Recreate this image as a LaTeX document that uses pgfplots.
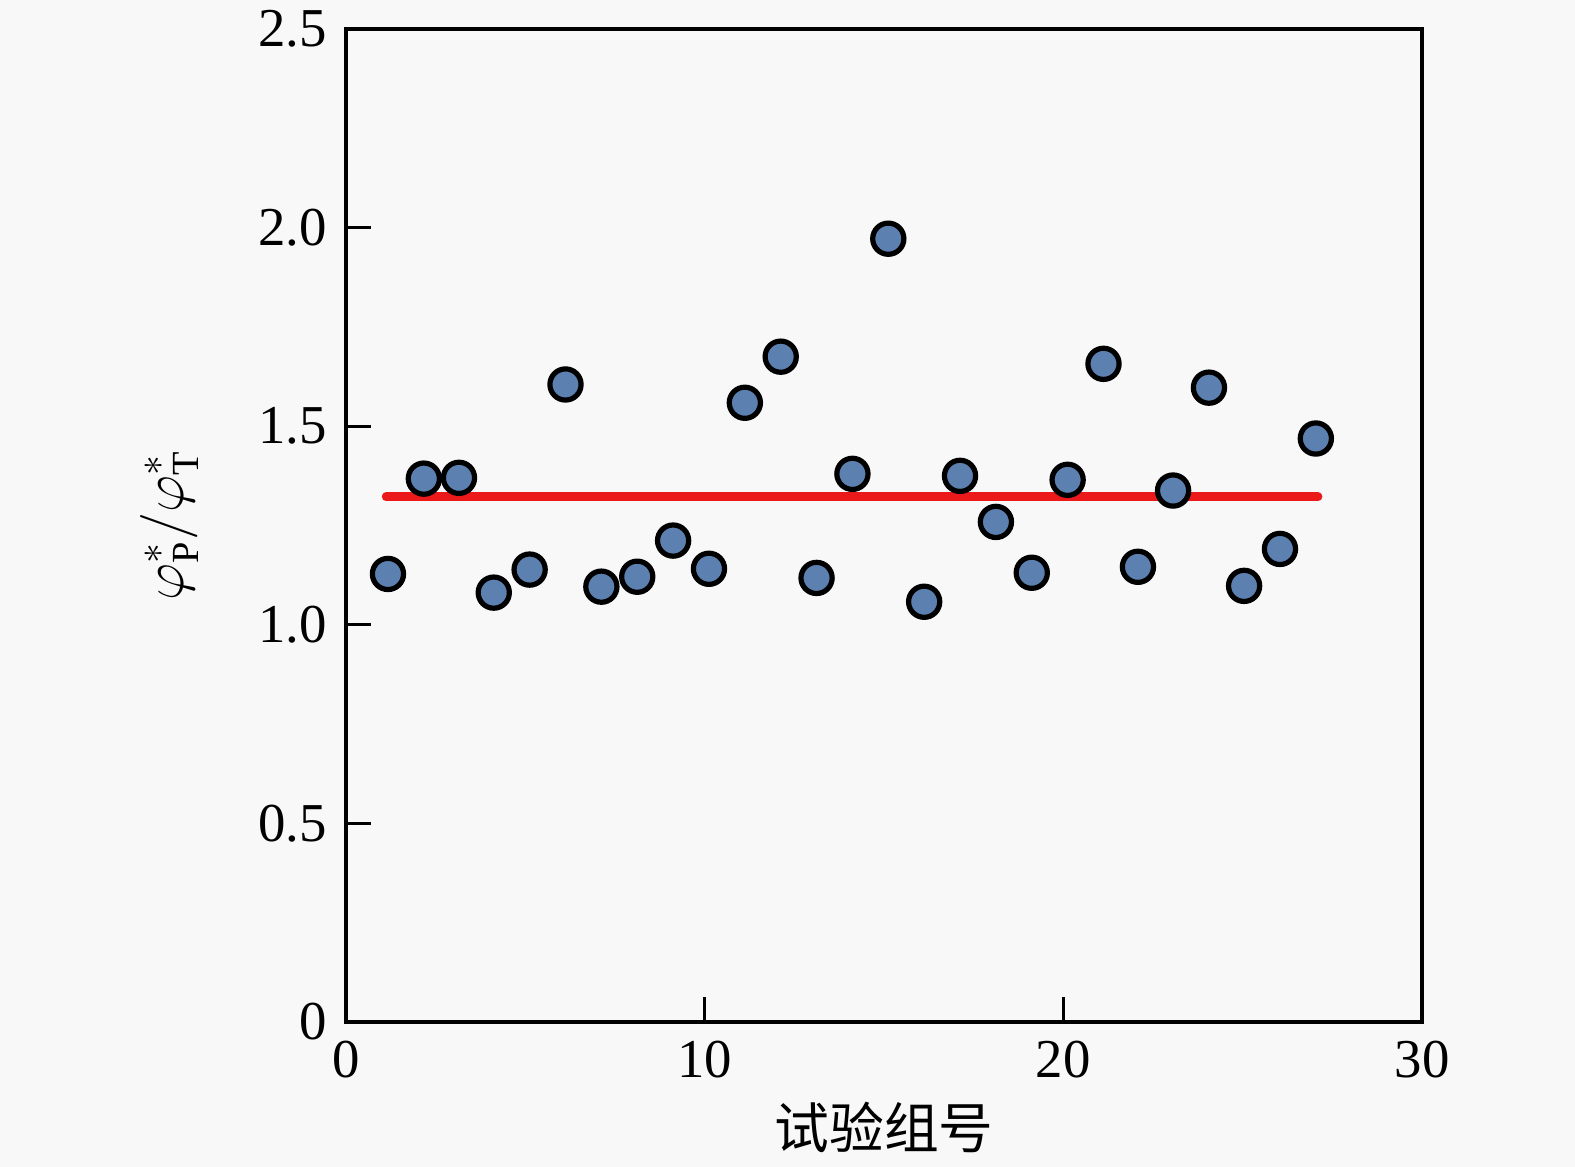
\documentclass[border=0pt]{standalone}
\usepackage{fontspec}
\setmainfont{Liberation Serif}
\newfontfamily\cjk{Noto Sans CJK SC}
\usepackage{amsmath}
\usepackage{pgfplots}
\pgfplotsset{compat=1.18}
\definecolor{bg}{RGB}{248,248,248}
\definecolor{mk}{RGB}{92,128,175}
\definecolor{rl}{RGB}{235,25,25}
\begin{document}
\fontsize{13.75}{16}\selectfont
\begin{tikzpicture}
\path[use as bounding box, fill=bg] (0,0) rectangle (393.75bp,291.75bp);
\begin{axis}[
  at={(86.5bp,36.25bp)}, anchor=south west,
  scale only axis, width=269bp, height=248.25bp,
  xmin=0, xmax=30, ymin=0, ymax=2.5,
  xtick={0,10,20,30}, ytick={0,0.5,1,1.5,2,2.5},
  yticklabels={0,0.5,1.0,1.5,2.0,2.5},
  xtick pos=left, ytick pos=left,
  tick align=inside, major tick length=6.25bp,
  axis line style={line width=0.8bp},
  tick style={line width=0.8bp, black},
  /pgf/number format/assume math mode=true,
  ticklabel style={font=\fontsize{13.75}{16}\selectfont},
  axis background/.style={fill=bg},
  clip=false,
  xlabel={\cjk 试验组号},
  xlabel style={at={(axis description cs:0.5,-0.1067)}, anchor=center, font=\fontsize{13.75}{16}\selectfont},
  ylabel={$\varphi^{*}_{\text{P}}/\varphi^{*}_{\text{T}}$},
  ylabel style={at={(axis description cs:-0.164,0.5)}, anchor=center, font=\fontsize{13.75}{16}\selectfont},
]
\addplot[rl, line width=2.2bp, line cap=round] coordinates {(1.12,1.322) (27.1,1.322)};
\addplot[only marks, mark=*, mark size=3.9bp, mark options={fill=mk, draw=black, line width=1.3bp}] coordinates {
(1.17,1.128) (2.17,1.368) (3.15,1.370) (4.12,1.081) (5.12,1.139) (6.12,1.605)
(7.12,1.096) (8.12,1.121) (9.12,1.212) (10.12,1.141) (11.12,1.559) (12.12,1.675)
(13.12,1.118) (14.12,1.380) (15.12,1.972) (16.12,1.058) (17.12,1.375) (18.12,1.259)
(19.12,1.131) (20.12,1.365) (21.12,1.657) (22.08,1.146) (23.06,1.338) (24.06,1.597)
(25.04,1.098) (26.04,1.191) (27.04,1.469)
};
\end{axis}
\end{tikzpicture}
\end{document}
